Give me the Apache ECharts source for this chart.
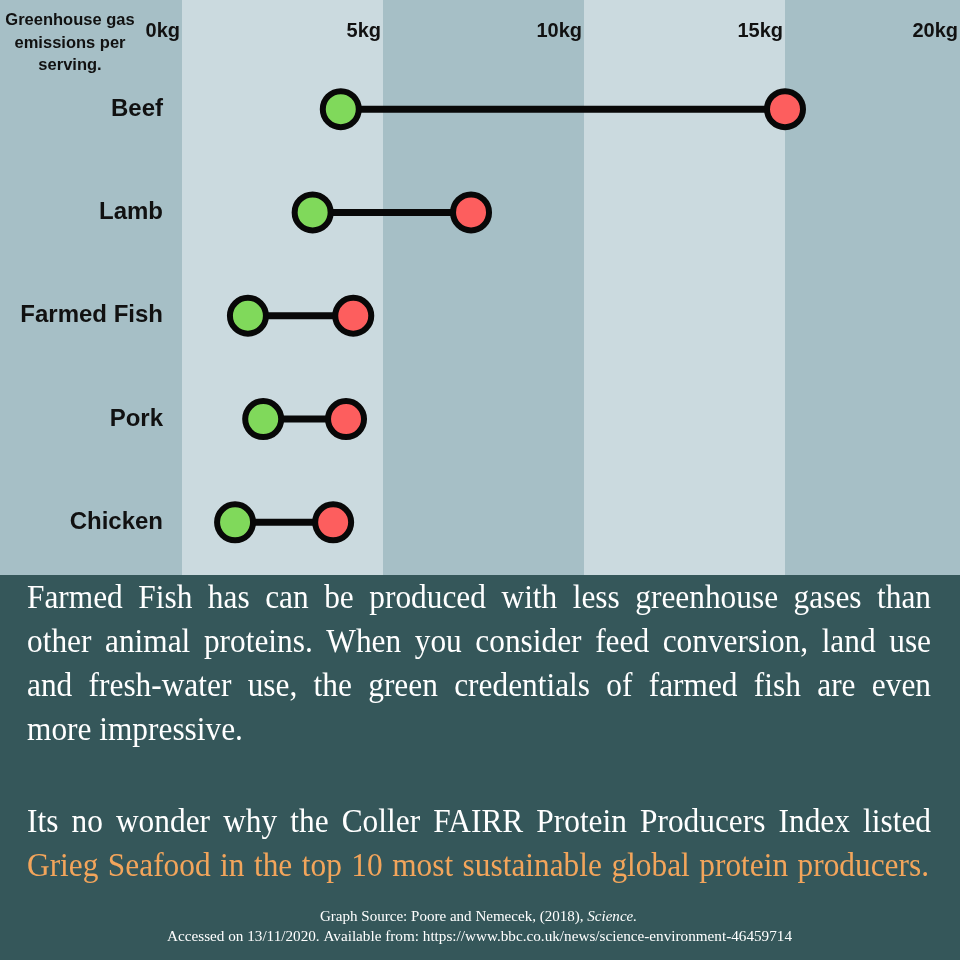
<!DOCTYPE html>
<html>
<head>
<meta charset="utf-8">
<script src="https://cdn.jsdelivr.net/npm/echarts@6/dist/echarts.min.js"></script>
<style>
html,body{margin:0;padding:0;background:#a6bfc6;}
#chart{width:960px;height:960px;}
</style>
</head>
<body>
<div id="chart"></div>
<script>
// ---- data ----
const categories = ['Beef', 'Lamb', 'Farmed Fish', 'Pork', 'Chicken'];
const lowValues = [3.95, 3.25, 1.64, 2.02, 1.32];
const highValues = [15.0, 7.19, 4.26, 4.08, 3.76];
const xTickValues = [0, 5, 10, 15, 20];
const xTickLabels = ['0kg', '5kg', '10kg', '15kg', '20kg'];
const axisTitleLines = ['Greenhouse gas', 'emissions per', 'serving.'];
const para1Lines = [
  'Farmed Fish has can be produced with less greenhouse gases than',
  'other animal proteins. When you consider feed conversion, land use',
  'and fresh-water use, the green credentials of farmed fish are even',
  'more impressive.'
];
const para2Line1 = 'Its no wonder why the Coller FAIRR Protein Producers Index listed';
const para2Line2 = 'Grieg Seafood in the top 10 most sustainable global protein producers.';
const sourceLine1 = ['Graph Source: Poore and Nemecek, (2018), ', 'Science.'];
const sourceLine2 = 'Accessed on 13/11/2020. Available from: https://www.bbc.co.uk/news/science-environment-46459714';

// ---- helpers ----
const cv = document.createElement('canvas').getContext('2d');
function measure(text, font) { cv.font = font; return cv.measureText(text).width; }

const SERIF = '"Liberation Serif", "Times New Roman", serif';
const SANS = '"Liberation Sans", Arial, sans-serif';
const graphics = [];

graphics.push({
  type: 'rect', left: 0, top: 575, z: 0,
  shape: { width: 960, height: 385 },
  style: { fill: '#35575a' }
});

function textEl(t, x, y, font, fill, sx, align) {
  return {
    type: 'text', x: x, y: y, scaleX: sx, z: 10,
    style: { text: t, font: font, fill: fill, align: align || 'left', verticalAlign: 'middle' }
  };
}

function justified(line, y, left, right, font, fill, sx) {
  const words = line.split(' ');
  const ws = words.map(w => measure(w, font) * sx);
  const total = ws.reduce((a, b) => a + b, 0);
  const gap = (right - left - total) / (words.length - 1);
  let x = left;
  words.forEach((w, i) => { graphics.push(textEl(w, x, y, font, fill, sx)); x += ws[i] + gap; });
}
function plain(line, y, left, font, fill, sx) {
  graphics.push(textEl(line, left, y, font, fill, sx));
}
function centeredFit(segs, fonts, y, cx, width, fill) {
  const ws = segs.map((s, i) => measure(s, fonts[i]));
  const total = ws.reduce((a, b) => a + b, 0);
  const sx = width / total;
  let x = cx - width / 2;
  segs.forEach((s, i) => { graphics.push(textEl(s, x, y, fonts[i], fill, sx)); x += ws[i] * sx; });
}

const bodyFont = '33px ' + SERIF;
const sx = 0.95;
const ys1 = [599, 643, 687, 731];
para1Lines.forEach((l, i) => {
  if (i < 3) justified(l, ys1[i], 27, 931, bodyFont, '#ffffff', sx);
  else plain(l, ys1[i], 27, bodyFont, '#ffffff', sx);
});
justified(para2Line1, 823, 27, 931, bodyFont, '#ffffff', sx);
justified(para2Line2, 867, 27, 929, bodyFont, '#f3a55b', sx);

const srcFont = '15px ' + SERIF;
const srcFontIt = 'italic 15px ' + SERIF;
centeredFit(sourceLine1, [srcFont, srcFontIt], 917, 478.5, 317, '#ffffff');
centeredFit([sourceLine2], [srcFont], 937, 479.5, 625, '#ffffff');

const titleYs = [20.5, 43.5, 65.5];
axisTitleLines.forEach((l, i) => {
  graphics.push(textEl(l, 70, titleYs[i], 'bold 16.5px ' + SANS, '#111111', 1, 'center'));
});

// ---- chart ----
const chart = echarts.init(document.getElementById('chart'), null, { renderer: 'canvas' });
const lineData = categories.map((c, i) => [lowValues[i], highValues[i], i]);

const option = {
  backgroundColor: '#a6bfc6',
  animation: false,
  grid: [
    { left: 182, width: 804, top: 0, height: 575, containLabel: false, outerBoundsMode: 'none' },
    { left: 182, width: 804, top: 57.5, height: 516.5, containLabel: false, outerBoundsMode: 'none' }
  ],
  xAxis: [
    {
      gridIndex: 0, type: 'value', min: 0, max: 20, interval: 5, position: 'top',
      axisLine: { show: false }, axisTick: { show: false }, splitLine: { show: false },
      splitArea: { show: true, areaStyle: { color: ['#cbdadf', '#a6bfc6'] } },
      axisLabel: {
        inside: true, margin: 21, align: 'right',
        color: '#111111', fontFamily: SANS, fontWeight: 'bold', fontSize: 20,
        formatter: function (v) {
          const idx = xTickValues.indexOf(v);
          const t = idx >= 0 ? xTickLabels[idx] : '';
          return idx === xTickValues.length - 1 ? '{last|' + t + '}' : '{n|' + t + '}';
        },
        rich: {
          n: { color: '#111111', fontFamily: SANS, fontWeight: 'bold', fontSize: 20, padding: [0, 2, 0, 0] },
          last: { color: '#111111', fontFamily: SANS, fontWeight: 'bold', fontSize: 20, padding: [0, 28, 0, 0] }
        }
      }
    },
    { gridIndex: 1, type: 'value', min: 0, max: 20, interval: 5, show: false }
  ],
  yAxis: [
    { gridIndex: 0, type: 'value', show: false },
    {
      gridIndex: 1, type: 'category', data: categories, inverse: true,
      axisLine: { show: false }, axisTick: { show: false }, splitLine: { show: false },
      axisLabel: {
        margin: 19, color: '#111111', fontFamily: SANS,
        fontWeight: 'bold', fontSize: 24, padding: [5, 0, 0, 0]
      }
    }
  ],
  graphic: graphics,
  series: [
    {
      type: 'custom', xAxisIndex: 1, yAxisIndex: 1, z: 2,
      data: lineData,
      encode: { x: [0, 1], y: 2 },
      renderItem: function (params, api) {
        const p1 = api.coord([api.value(0), api.value(2)]);
        const p2 = api.coord([api.value(1), api.value(2)]);
        return {
          type: 'line',
          shape: { x1: p1[0], y1: p1[1], x2: p2[0], y2: p2[1] },
          style: { stroke: '#080808', lineWidth: 7 }
        };
      }
    },
    {
      type: 'scatter', xAxisIndex: 1, yAxisIndex: 1, z: 3,
      symbol: 'circle', symbolSize: 36,
      data: lowValues.map((v, i) => [v, categories[i]]),
      itemStyle: { color: '#80d95b', borderColor: '#080808', borderWidth: 6, opacity: 1 }
    },
    {
      type: 'scatter', xAxisIndex: 1, yAxisIndex: 1, z: 3,
      symbol: 'circle', symbolSize: 36,
      data: highValues.map((v, i) => [v, categories[i]]),
      itemStyle: { color: '#fd5e5e', borderColor: '#080808', borderWidth: 6, opacity: 1 }
    }
  ]
};
chart.setOption(option);
</script>
</body>
</html>
